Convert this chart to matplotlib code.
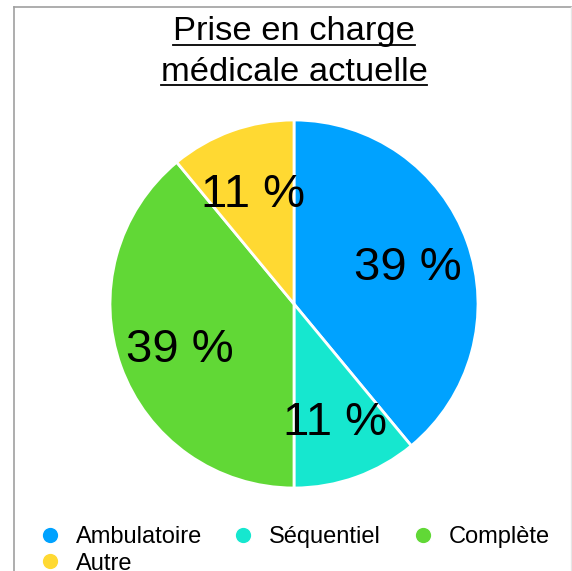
import matplotlib
matplotlib.use("Agg")
import matplotlib.pyplot as plt
from matplotlib.lines import Line2D

plt.rcParams['font.family'] = ['Liberation Sans', 'DejaVu Sans']

categories = ["Ambulatoire", "Séquentiel", "Complète", "Autre"]
values = [39, 11, 39, 11]
colors = ["#00A2FF", "#16E7CF", "#61D836", "#FFD932"]
title_lines = ["Prise en charge", "médicale actuelle"]

W, H = 572, 571
fig = plt.figure(figsize=(W / 100, H / 100), dpi=100)

# pie axes: centre (294, 304), radius 184 px
cx, cy, r = 294, 304, 184
ax = fig.add_axes([(cx - r) / W, 1 - (cy + r) / H, 2 * r / W, 2 * r / H])
wedges, _, pcts = ax.pie(values, colors=colors, startangle=90, counterclock=False,
                         autopct=lambda p: "%.0f %%" % p, pctdistance=0.66,
                         wedgeprops=dict(edgecolor="white", linewidth=2),
                         textprops=dict(fontsize=34, color="black"))
for t in pcts:
    t.set_va("center_baseline")
ax.set_xlim(-1, 1)
ax.set_ylim(-1, 1)
ax.set_aspect("auto")

# title, underlined
baselines = [40, 81]
texts = []
for line, b in zip(title_lines, baselines):
    t = fig.text(cx / W, 1 - b / H, line, ha="center", va="baseline", fontsize=24.8)
    texts.append((t, b))
fig.canvas.draw()
rend = fig.canvas.get_renderer()
for t, b in texts:
    bb = t.get_window_extent(rend)
    y = 1 - (b + 4.5) / H
    fig.add_artist(Line2D([bb.x0 / W, bb.x1 / W], [y, y], color="black", lw=1.3))

# frame lines
fig.add_artist(Line2D([14 / W, 14 / W], [0, 1 - 7 / H], color="#a0a0a0", lw=1.2))
fig.add_artist(Line2D([14 / W, 1], [1 - 7 / H, 1 - 7 / H], color="#a0a0a0", lw=1.2))
fig.add_artist(Line2D([570.5 / W, 570.5 / W], [0, 1 - 7 / H], color="#e6e6e6", lw=1))

# legend filled row by row (matplotlib fills columns first)
order = [0, 3, 1, 2]
handles = [Line2D([], [], marker="o", linestyle="none", markersize=12,
                  markerfacecolor=colors[i], markeredgecolor="white") for i in order]
labels = [categories[i] for i in order]
fig.legend(handles, labels, loc="upper left", bbox_to_anchor=(38 / W, 1 - 526 / H),
           ncol=3, frameon=False, fontsize=17, handlelength=1.0, handletextpad=0.6,
           columnspacing=1.25, labelspacing=0.2, borderpad=0, borderaxespad=0)

fig.savefig("out.png", dpi=100)
